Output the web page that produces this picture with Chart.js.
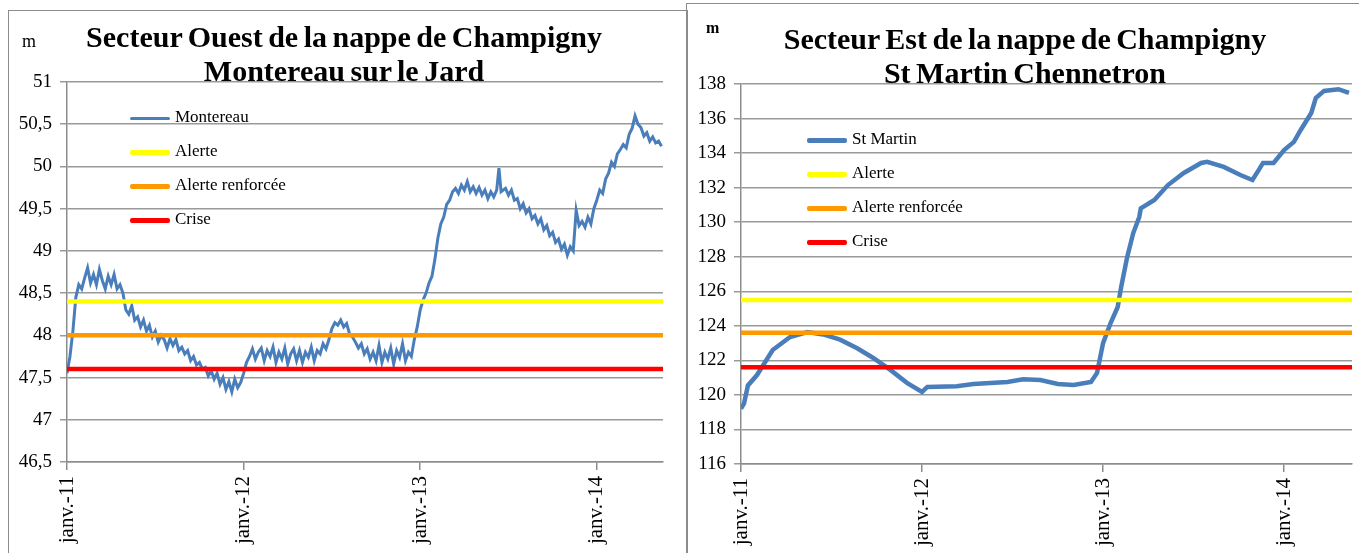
<!DOCTYPE html>
<html>
<head>
<meta charset="utf-8">
<script src="https://cdn.jsdelivr.net/npm/chart.js@4/dist/chart.umd.min.js"></script>
<style>
  html, body { margin: 0; padding: 0; background: #fff; }
  body { width: 1359px; height: 553px; position: relative; overflow: hidden; font-family: 'Liberation Serif', 'Times New Roman', serif; }
  .panel { position: absolute; border: 1.5px solid #8c8c8c; box-sizing: border-box; }
  .box { position: absolute; }
  .title { position: absolute; font-weight: bold; font-size: 30px; line-height: 34px; text-align: center; word-spacing: -2px; color: #000; white-space: nowrap; }
  .unit { position: absolute; font-size: 18px; color: #000; }
  .legend { position: absolute; font-size: 17px; color: #000; }
  .legend div { position: relative; height: 34px; line-height: 20px; padding-left: 45px; white-space: nowrap; }
  .legend span { position: absolute; left: 0; top: 9px; width: 40px; border-radius: 2px; }
</style>
</head>
<body>
<div class="panel" style="left:8px;top:10px;width:680px;height:560px;"></div>
<div class="panel" style="left:686px;top:3px;width:680px;height:560px;"></div>

<div class="box" style="left:0;top:0;width:686px;height:553px;"><canvas id="ouestChart"></canvas></div>
<div class="box" style="left:686px;top:0;width:673px;height:553px;"><canvas id="estChart"></canvas></div>

<div class="unit" style="left:22px;top:31px;">m</div>
<div class="title" style="left:44px;top:20px;width:600px;">Secteur Ouest de la nappe de Champigny<br>Montereau sur le Jard</div>
<div class="legend" id="legendOuest" style="left:130px;top:107px;"></div>

<div class="unit" style="left:706px;top:19px;font-weight:bold;font-size:16px;">m</div>
<div class="title" style="left:725px;top:22px;width:600px;">Secteur Est de la nappe de Champigny<br>St Martin Chennetron</div>
<div class="legend" id="legendEst" style="left:807px;top:129px;"></div>

<script>
// ══════════════════════════════
//  DONNÉES
// ══════════════════════════════
// x = mois depuis janvier 2011
const anneeMois = [0, 12, 24, 36];
const anneeLabels = ['janv.-11', 'janv.-12', 'janv.-13', 'janv.-14'];
const finMois = 40.5;

const seuilNoms = ['Alerte', 'Alerte renforcée', 'Crise'];
const seuilCouleurs = ['#ffff00', '#ff9900', '#ff0000'];
const seuilsOuest = [48.4, 48.0, 47.6];
const seuilsEst = [125.5, 123.6, 121.6];

// Montereau (piézomètre secteur Ouest)
const montereau = [
  [0.0, 47.55], [0.2, 47.75], [0.4, 48.05], [0.6, 48.45], [0.8, 48.6], [1.0, 48.55],
  [1.2, 48.68], [1.4, 48.8], [1.6, 48.62], [1.8, 48.72], [2.0, 48.6], [2.2, 48.78],
  [2.4, 48.65], [2.6, 48.55], [2.8, 48.7], [3.0, 48.6], [3.2, 48.72], [3.4, 48.55],
  [3.6, 48.6], [3.8, 48.5], [4.0, 48.3], [4.2, 48.25], [4.4, 48.35], [4.6, 48.18],
  [4.8, 48.22], [5.0, 48.1], [5.2, 48.18], [5.4, 48.05], [5.6, 48.12], [5.8, 47.98],
  [6.0, 48.05], [6.2, 47.92], [6.4, 48.0], [6.6, 47.95], [6.8, 47.85], [7.0, 47.96],
  [7.2, 47.88], [7.4, 47.95], [7.6, 47.82], [7.8, 47.86], [8.0, 47.78], [8.2, 47.82],
  [8.4, 47.7], [8.6, 47.75], [8.8, 47.65], [9.0, 47.68], [9.2, 47.6], [9.4, 47.62],
  [9.6, 47.52], [9.8, 47.58], [10.0, 47.48], [10.2, 47.55], [10.4, 47.42], [10.6, 47.5],
  [10.8, 47.36], [11.0, 47.45], [11.2, 47.33], [11.4, 47.48], [11.6, 47.38], [11.8, 47.44],
  [12.0, 47.55], [12.2, 47.68], [12.4, 47.75], [12.6, 47.84], [12.8, 47.72], [13.0, 47.8],
  [13.2, 47.85], [13.4, 47.7], [13.6, 47.82], [13.8, 47.75], [14.0, 47.86], [14.2, 47.68],
  [14.4, 47.8], [14.6, 47.72], [14.8, 47.85], [15.0, 47.66], [15.2, 47.78], [15.4, 47.84],
  [15.6, 47.7], [15.8, 47.82], [16.0, 47.68], [16.2, 47.8], [16.4, 47.74], [16.6, 47.86],
  [16.8, 47.7], [17.0, 47.82], [17.2, 47.78], [17.4, 47.9], [17.6, 47.84], [17.8, 47.95],
  [18.0, 48.08], [18.2, 48.15], [18.4, 48.12], [18.6, 48.18], [18.8, 48.1], [19.0, 48.14],
  [19.2, 48.02], [19.4, 47.98], [19.6, 47.92], [19.8, 47.85], [20.0, 47.9], [20.2, 47.78],
  [20.4, 47.84], [20.6, 47.72], [20.8, 47.8], [21.0, 47.7], [21.2, 47.88], [21.4, 47.68],
  [21.6, 47.8], [21.8, 47.72], [22.0, 47.85], [22.2, 47.66], [22.4, 47.82], [22.6, 47.74],
  [22.8, 47.9], [23.0, 47.7], [23.2, 47.8], [23.4, 47.75], [23.6, 47.95], [23.8, 48.1],
  [24.0, 48.3], [24.2, 48.42], [24.4, 48.5], [24.6, 48.62], [24.8, 48.7], [25.0, 48.9],
  [25.2, 49.15], [25.4, 49.32], [25.6, 49.4], [25.8, 49.55], [26.0, 49.6], [26.2, 49.7],
  [26.4, 49.74], [26.6, 49.68], [26.8, 49.78], [27.0, 49.72], [27.2, 49.82], [27.4, 49.7],
  [27.6, 49.76], [27.8, 49.68], [28.0, 49.75], [28.2, 49.66], [28.4, 49.72], [28.6, 49.62],
  [28.8, 49.7], [29.0, 49.64], [29.2, 49.72], [29.35, 49.98], [29.5, 49.7], [29.8, 49.74],
  [30.0, 49.66], [30.2, 49.72], [30.4, 49.6], [30.6, 49.62], [30.8, 49.5], [31.0, 49.56],
  [31.2, 49.45], [31.4, 49.5], [31.6, 49.38], [31.8, 49.42], [32.0, 49.32], [32.2, 49.38],
  [32.4, 49.25], [32.6, 49.3], [32.8, 49.18], [33.0, 49.22], [33.2, 49.1], [33.4, 49.14],
  [33.6, 49.02], [33.8, 49.08], [34.0, 48.95], [34.2, 49.05], [34.4, 49.0], [34.6, 49.48],
  [34.8, 49.3], [35.0, 49.35], [35.2, 49.28], [35.4, 49.4], [35.6, 49.32], [35.8, 49.5],
  [36.0, 49.6], [36.2, 49.72], [36.4, 49.68], [36.6, 49.85], [36.8, 49.92], [37.0, 50.05],
  [37.2, 50.0], [37.4, 50.15], [37.6, 50.2], [37.8, 50.26], [38.0, 50.22], [38.2, 50.38],
  [38.4, 50.45], [38.6, 50.6], [38.8, 50.5], [39.0, 50.46], [39.2, 50.36], [39.4, 50.4],
  [39.6, 50.3], [39.8, 50.35], [40.0, 50.28], [40.2, 50.3], [40.4, 50.24],
];

// St Martin Chennetron (secteur Est)
const stMartin = [
  [0.0, 119.2], [0.2, 119.5], [0.46, 120.55], [1.06, 121.15], [2.1, 122.6], [3.25, 123.35],
  [4.4, 123.64], [5.45, 123.5], [6.57, 123.2], [7.7, 122.7], [8.77, 122.14], [9.9, 121.45],
  [11.0, 120.7], [12.0, 120.17], [12.35, 120.46], [14.3, 120.5], [15.4, 120.63], [17.66, 120.75],
  [18.7, 120.9], [19.85, 120.86], [21.0, 120.63], [22.05, 120.57], [23.2, 120.75], [23.6, 121.27],
  [24.0, 123.0], [24.5, 124.16], [24.97, 125.09], [25.2, 126.25], [25.6, 127.99], [26.0, 129.37],
  [26.4, 130.3], [26.5, 130.8], [27.4, 131.29], [28.3, 132.15], [29.35, 132.85], [30.5, 133.43],
  [30.9, 133.5], [32.0, 133.2], [33.1, 132.73], [33.9, 132.44], [34.3, 133.0], [34.6, 133.43],
  [35.3, 133.43], [36.0, 134.18], [36.65, 134.65], [37.1, 135.34], [37.8, 136.32], [38.1, 137.19],
  [38.65, 137.6], [39.6, 137.7], [40.3, 137.48],
];


// ══════════════════════════════
//  CONSTRUCTION DES GRAPHIQUES
// ══════════════════════════════
const famille = "'Liberation Serif', 'Times New Roman', serif";
const virgule = (v) => String(v).replace('.', ',');

function makeChart(id, serieNom, serie, serieLargeur, seuils, yMin, yMax, pas, box) {
  const datasets = [{
    label: serieNom,
    data: serie.map(p => ({ x: p[0], y: p[1] })),
    borderColor: '#4a7ebb',
    borderWidth: serieLargeur,
    pointRadius: 0,
    tension: 0,
    order: 5,
  }];
  seuils.forEach((v, i) => {
    datasets.push({
      label: seuilNoms[i],
      data: [{ x: 0, y: v }, { x: finMois, y: v }],
      borderColor: seuilCouleurs[i],
      borderWidth: 4.5,
      pointRadius: 0,
      order: 1 + i,
    });
  });

  return new Chart(document.getElementById(id), {
    type: 'line',
    data: { datasets },
    options: {
      animation: false,
      responsive: true,
      maintainAspectRatio: false,
      devicePixelRatio: 1,
      layout: { padding: { top: box.top, right: box.right, left: 0, bottom: 0 } },
      plugins: { legend: { display: false }, tooltip: { enabled: false } },
      scales: {
        x: {
          type: 'linear',
          min: 0,
          max: finMois,
          afterBuildTicks: (axis) => { axis.ticks = anneeMois.map(v => ({ value: v })); },
          afterFit: (s) => { s.height = box.xh; },
          ticks: {
            autoSkip: false,
            minRotation: 90,
            maxRotation: 90,
            padding: 6,
            color: '#000',
            font: { family: famille, size: 21 },
            callback: (v) => anneeLabels[anneeMois.indexOf(v)],
          },
          grid: { drawOnChartArea: false, drawTicks: true, tickLength: 8, color: '#8c8c8c', lineWidth: 1.5 },
          border: { color: '#8c8c8c', width: 1.5 },
        },
        y: {
          min: yMin,
          max: yMax,
          afterFit: (s) => { s.width = box.left; },
          ticks: {
            stepSize: pas,
            padding: 8,
            color: '#000',
            font: { family: famille, size: 19 },
            callback: (v) => virgule(v),
          },
          grid: { color: '#9a9a9a', lineWidth: 1.5, tickLength: 7 },
          border: { color: '#8c8c8c', width: 1.5 },
        },
      },
    },
  });
}

makeChart('ouestChart', 'Montereau', montereau, 3, seuilsOuest, 46.5, 51, 0.5,
  { left: 67, top: 82, right: 23, xh: 91 });
makeChart('estChart', 'St Martin', stMartin, 4.5, seuilsEst, 116, 138, 2,
  { left: 55, top: 84, right: 7, xh: 89 });


// ══════════════════════════════
//  LÉGENDES
// ══════════════════════════════
function legende(elId, serieNom, largeurSerie) {
  const el = document.getElementById(elId);
  const noms = [serieNom].concat(seuilNoms);
  const couleurs = ['#4a7ebb'].concat(seuilCouleurs);
  noms.forEach((n, i) => {
    const h = i === 0 ? largeurSerie : 5;
    el.innerHTML += `<div><span style="background:${couleurs[i]};height:${h}px;margin-top:${(5 - h) / 2}px"></span>${n}</div>`;
  });
}
legende('legendOuest', 'Montereau', 3);
legende('legendEst', 'St Martin', 5);
</script>
</body>
</html>
